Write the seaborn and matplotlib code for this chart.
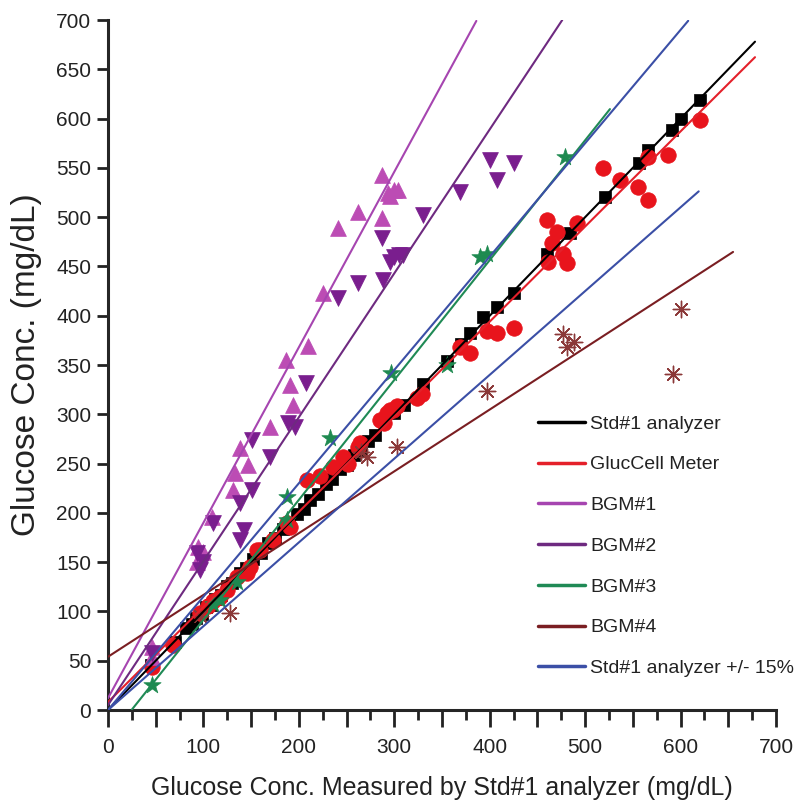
import numpy as np
import pandas as pd
import matplotlib
matplotlib.use("Agg")
import matplotlib.pyplot as plt
from matplotlib.ticker import MultipleLocator, FuncFormatter
import seaborn as sns

# ---- measured data (mg/dL): x = Std#1 analyzer reading, y = device reading ----
std_x = [45, 70, 82, 88, 92, 98, 103, 108, 112, 118, 125, 130, 138, 145, 152, 160,
         168, 175, 183, 190, 198, 205, 212, 220, 228, 235, 243, 250, 258, 265, 272,
         280, 300, 310, 330, 355, 370, 379, 393, 408, 425, 460, 484, 521, 556, 566,
         591, 600, 620]
std_y = [46, 69, 83, 87, 93, 97, 104, 107, 113, 117, 126, 129, 139, 144, 153, 159,
         169, 174, 184, 189, 199, 204, 213, 219, 229, 234, 244, 249, 259, 264, 273,
         279, 301, 309, 331, 354, 371, 382, 399, 409, 423, 463, 484, 520, 555, 568,
         588, 600, 619]

gluc_x = [46, 68, 96, 105, 110, 117, 125, 135, 146, 149, 156, 159, 173, 188, 191,
          209, 222, 236, 246, 252, 262, 264, 285, 289, 292, 296, 299, 303, 324, 329,
          369, 379, 397, 408, 425, 460, 465, 461, 471, 477, 481, 491, 519, 537, 555,
          566, 566, 587, 620]
gluc_y = [44, 66, 98, 106, 111, 115, 122, 135, 139, 145, 162, 162, 172, 190, 186,
          233, 237, 247, 257, 250, 267, 271, 294, 291, 301, 304, 304, 308, 317, 321,
          368, 362, 385, 382, 388, 497, 474, 454, 485, 463, 453, 494, 550, 538, 531,
          561, 517, 563, 599]

bgm1_x = [46, 46, 93, 94, 100, 109, 131, 133, 138, 147, 170, 187, 191, 194, 210,
          225, 241, 262, 287, 287, 293, 296, 300, 304]
bgm1_y = [54, 64, 150, 165, 160, 196, 223, 240, 266, 249, 287, 355, 330, 309, 369,
          423, 489, 505, 499, 543, 524, 521, 528, 528]

bgm2_x = [46, 93, 96, 100, 110, 138, 138, 142, 151, 151, 170, 189, 196, 208, 241,
          262, 287, 288, 295, 300, 305, 309, 330, 369, 400, 408, 425]
bgm2_y = [58, 159, 142, 150, 190, 172, 210, 183, 223, 274, 257, 291, 287, 332, 418,
          433, 479, 436, 455, 460, 462, 462, 502, 526, 558, 538, 555]

bgm3_x = [46, 110, 117, 135, 188, 188, 233, 297, 355, 390, 397, 479]
bgm3_y = [25, 108, 112, 130, 193, 216, 276, 342, 350, 460, 463, 561]

bgm4_x = [96, 128, 265, 271, 303, 397, 477, 481, 488, 592, 600]
bgm4_y = [95, 98, 262, 257, 267, 324, 381, 368, 373, 341, 407]

# ---- linear fits: slope, intercept, x start, x end ----
fit_names = ["Std#1 analyzer", "GlucCell Meter", "BGM#1", "BGM#2", "BGM#3",
             "BGM#4", "Std#1 analyzer +/- 15%", "Std#1 analyzer +/- 15%"]
fit_slope = [1.0, 0.965, 1.78, 1.46, 1.216, 0.627, 1.15, 0.85]
fit_icpt = [0.0, 8.0, 12.0, 5.0, -30.0, 54.0, 0.0, 0.0]
fit_x0 = [0, 0, 0, 0, 25, 0, 0, 0]
fit_x1 = [678, 678, 386, 476, 526, 655, 608, 619]

line_colors = ["#000000", "#E4202A", "#A645B0", "#6E2A80", "#1F8A55", "#7A1E22",
               "#3B4FA6", "#3B4FA6"]

sns.set_style("ticks")
plt.rcParams["font.family"] = ["Liberation Sans", "DejaVu Sans"]
plt.rcParams["axes.linewidth"] = 2.2

fig = plt.figure(figsize=(8.04, 8.11), dpi=100)
ax = fig.add_axes([108 / 804, 1 - 710 / 811, 668 / 804, 690 / 811])

# scatter series
series = [
    (std_x, std_y, "s", "#000000", 75, 0.5),
    (gluc_x, gluc_y, "o", "#E8141C", 125, 0.5),
    (bgm1_x, bgm1_y, "^", "#BC4CB4", 130, 0.5),
    (bgm2_x, bgm2_y, "v", "#7A1E8E", 130, 0.5),
    (bgm3_x, bgm3_y, "*", "#1E8A50", 170, 0.5),
    (bgm4_x, bgm4_y, (8, 2, 0), "#8B3838", 140, 1.0),
]
for xs, ys, mk, col, size, lw in series:
    df = pd.DataFrame({"x": xs, "y": ys})
    sns.scatterplot(data=df, x="x", y="y", marker=mk, color=col, s=size,
                    edgecolor=col, linewidth=lw, ax=ax, legend=False, zorder=3)

# fit lines
handles = {}
for name, m, b, x0, x1, col in zip(fit_names, fit_slope, fit_icpt, fit_x0, fit_x1,
                                   line_colors):
    xs = np.array([x0, x1], dtype=float)
    ln, = ax.plot(xs, m * xs + b, color=col, lw=1.5, zorder=4)
    handles.setdefault(name, ln)

ax.set_xlim(0, 700)
ax.set_ylim(0, 700)
sns.despine(ax=ax)

ax.xaxis.set_major_locator(MultipleLocator(50))
ax.xaxis.set_minor_locator(MultipleLocator(25))
ax.xaxis.set_major_formatter(FuncFormatter(lambda v, p: f"{int(v)}" if int(v) % 100 == 0 else ""))
ax.yaxis.set_major_locator(MultipleLocator(50))
ax.tick_params(axis="both", which="major", direction="out", width=2, labelsize=15,
               colors="#222222")
ax.tick_params(axis="x", which="major", length=12, pad=8)
ax.tick_params(axis="x", which="minor", length=7, width=2, color="#222222")
ax.tick_params(axis="y", which="major", length=8, pad=4)

ax.set_xlabel("Glucose Conc. Measured by Std#1 analyzer (mg/dL)", fontsize=18,
              color="#222222", labelpad=14)
ax.set_ylabel("Glucose Conc. (mg/dL)", fontsize=24, color="#222222", labelpad=10)

leg = ax.legend(list(handles.values()), list(handles.keys()), frameon=False,
                loc="upper left", bbox_to_anchor=(538 / 804, 1 - 415 / 811),
                bbox_transform=fig.transFigure, fontsize=14, handlelength=2.4,
                handletextpad=0.3, labelspacing=1.19, borderpad=0, borderaxespad=0)
for t in leg.get_texts():
    t.set_color("#222222")
for h in leg.get_lines():
    h.set_linewidth(2.5)

fig.savefig("out.png", dpi=100)
